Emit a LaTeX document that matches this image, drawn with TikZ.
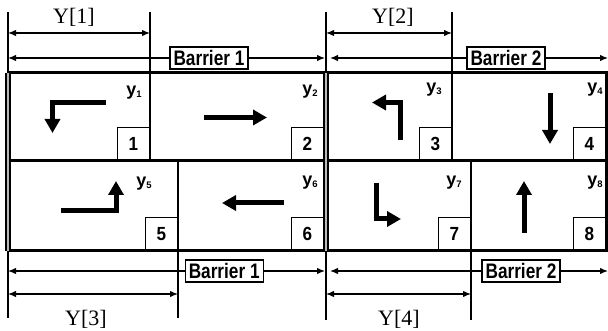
\documentclass[tikz,border=0pt]{standalone}
\usepackage{fontspec}
\usepackage{graphicx}
\setmainfont{Liberation Serif}
\newfontfamily\labfont{Liberation Sans}
\usetikzlibrary{arrows.meta}
\begin{document}
\begin{tikzpicture}[x=1pt,y=-1pt,
  frame/.style={line width=3pt},
  wall/.style={line width=1.8pt, double=gray!55, double distance=2.4pt},
  divider/.style={line width=1.3pt},
  ext/.style={line width=1.2pt},
  dim/.style={line width=1.3pt, {Latex[length=8pt,width=6.5pt]}-{Latex[length=8pt,width=6.5pt]}},
  move/.style={line width=5pt, line join=miter, -{Triangle[width=15pt,length=14pt]}},
  barrier/.style={draw, fill=white, line width=1.2pt, minimum width=78pt, minimum height=22pt,
    inner sep=1pt, font=\labfont\bfseries\fontsize{21}{21}\selectfont},
  numbox/.style={draw, line width=1.2pt, minimum width=32pt, minimum height=33pt, inner sep=0pt,
    anchor=south east, font=\labfont\bfseries\fontsize{19}{19}\selectfont},
  ylab/.style={inner sep=0pt, font=\labfont\bfseries\fontsize{18}{18}\selectfont},
  dimlab/.style={inner sep=0pt, font=\fontsize{22}{22}\selectfont}]
\useasboundingbox (0,0) rectangle (608,331);
\newcommand{\ysub}[1]{y\raisebox{-1.5pt}{\fontsize{9.5}{9.5}\selectfont #1}}
\newcommand{\barlabel}[1]{\scalebox{0.82}[1]{#1}}
\newcommand{\numlabel}[1]{\scalebox{0.9}[1]{#1}}

% grid corners
\coordinate (tl) at (8,73);   \coordinate (tr) at (606,73);
\coordinate (ml) at (8,161);  \coordinate (mr) at (606,161);
\coordinate (bl) at (8,251);  \coordinate (br) at (606,251);
\coordinate (tm) at (326,73); \coordinate (bm) at (326,251);

% cell dividers (with their extension lines)
\draw[divider] (150,12) -- (150,161);
\draw[divider] (452,12) -- (452,161);
\draw[divider] (178,161) -- (178,318);
\draw[divider] (471,161) -- (471,320);
\draw[ext] (8,12) -- (tl);
\draw[ext] (bl) -- (8,318);
\draw[ext] (326,12) -- (tm);
\draw[ext] (bm) -- (326,320);

% number boxes
\node[numbox] (n1) at (150,161) {\numlabel{1}};
\node[numbox] (n2) at (324,161) {\numlabel{2}};
\node[numbox] (n3) at (452,161) {\numlabel{3}};
\node[numbox] (n4) at (606,161) {\numlabel{4}};
\node[numbox] (n5) at (178,251) {\numlabel{5}};
\node[numbox] (n6) at (324,251) {\numlabel{6}};
\node[numbox] (n7) at (471,251) {\numlabel{7}};
\node[numbox] (n8) at (606,251) {\numlabel{8}};

% outer frame and middle line
\draw[frame] (tl) -- (tr) -- (br) -- (bl);
\draw[frame] (ml) -- (mr);
\draw[wall] (tl) -- (bl);
\draw[wall] (tm) -- (bm);

% cell labels
\node[ylab] (y1) at (134,93) {\ysub{1}};
\node[ylab] (y2) at (310,92) {\ysub{2}};
\node[ylab] (y3) at (434,90) {\ysub{3}};
\node[ylab] (y4) at (595,90) {\ysub{4}};
\node[ylab] (y5) at (144,184) {\ysub{5}};
\node[ylab] (y6) at (310,183) {\ysub{6}};
\node[ylab] (y7) at (454,183) {\ysub{7}};
\node[ylab] (y8) at (595,183) {\ysub{8}};

% movement arrows
\coordinate (a1s) at (106,102.5); \coordinate (a1c) at (52.5,102.5); \coordinate (a1e) at (52.5,133);
\draw[move] (a1s) -- (a1c) -- (a1e);
\coordinate (a2s) at (204,117.5); \coordinate (a2e) at (267,117.5);
\draw[move] (a2s) -- (a2e);
\coordinate (a3s) at (400,140); \coordinate (a3c) at (400,102.5); \coordinate (a3e) at (372,102.5);
\draw[move] (a3s) -- (a3c) -- (a3e);
\coordinate (a4s) at (550,93); \coordinate (a4e) at (550,144);
\draw[move] (a4s) -- (a4e);
\coordinate (a5s) at (61,211); \coordinate (a5c) at (116,211); \coordinate (a5e) at (116,181);
\draw[move] (a5s) -- (a5c) -- (a5e);
\coordinate (a6s) at (284,203); \coordinate (a6e) at (222,203);
\draw[move] (a6s) -- (a6e);
\coordinate (a7s) at (376,183); \coordinate (a7c) at (376,219); \coordinate (a7e) at (401,219);
\draw[move] (a7s) -- (a7c) -- (a7e);
\coordinate (a8s) at (524,233); \coordinate (a8e) at (524,181);
\draw[move] (a8s) -- (a8e);

% dimension lines above the grid
\coordinate (d1a) at (8,33);   \coordinate (d1b) at (150,33);
\coordinate (d2a) at (326,33); \coordinate (d2b) at (452,33);
\coordinate (b1a) at (8,58);   \coordinate (b1b) at (325,58);
\coordinate (b2a) at (330,58); \coordinate (b2b) at (608,58);
\draw[dim] (d1a) -- (d1b);
\draw[dim] (d2a) -- (d2b);
\draw[dim] (b1a) -- (b1b) node[barrier, pos=0.634] (bt1) {\barlabel{Barrier 1}};
\draw[dim] (b2a) -- (b2b) node[barrier, pos=0.633] (bt2) {\barlabel{Barrier 2}};
\node[dimlab] (Y1) at (74,17) {Y[1]};
\node[dimlab] (Y2) at (393,17) {Y[2]};

% dimension lines below the grid
\coordinate (d3a) at (8,294);   \coordinate (d3b) at (178,294);
\coordinate (d4a) at (326,294); \coordinate (d4b) at (471,294);
\coordinate (b3a) at (8,271);   \coordinate (b3b) at (325,271);
\coordinate (b4a) at (330,271); \coordinate (b4b) at (608,271);
\draw[dim] (d3a) -- (d3b);
\draw[dim] (d4a) -- (d4b);
\draw[dim] (b3a) -- (b3b) node[barrier, pos=0.682] (bb1) {\barlabel{Barrier 1}};
\draw[dim] (b4a) -- (b4b) node[barrier, pos=0.687] (bb2) {\barlabel{Barrier 2}};
\node[dimlab] (Y3) at (86,319) {Y[3]};
\node[dimlab] (Y4) at (399,319) {Y[4]};
\end{tikzpicture}
\end{document}
